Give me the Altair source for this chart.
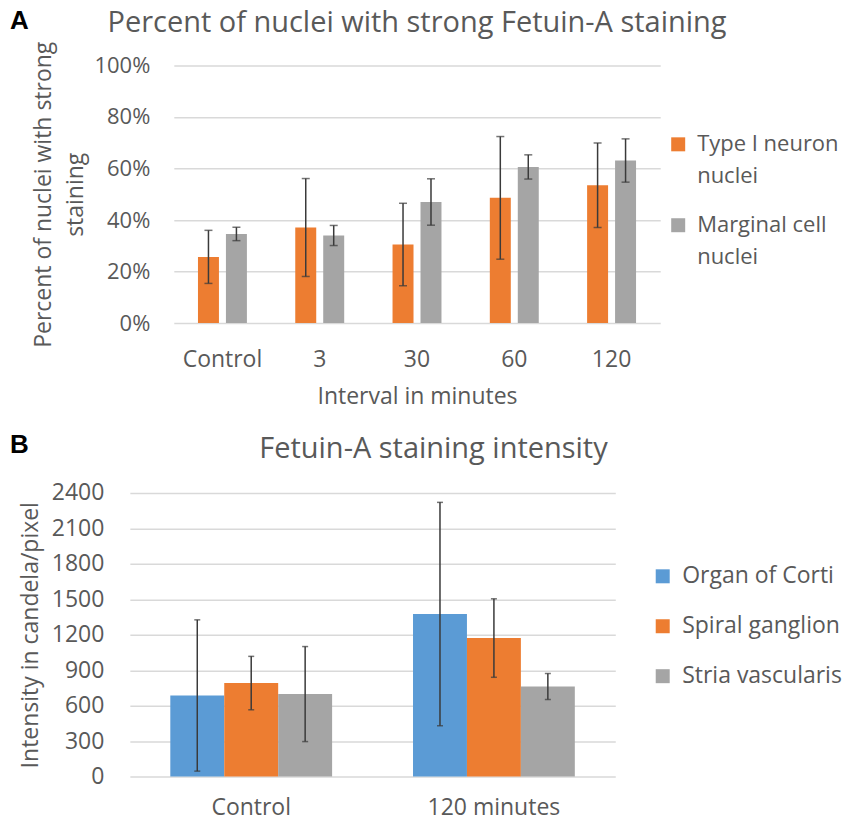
import altair as alt
import pandas as pd

# ---------------- data ----------------
intervals = ["Control", "3", "30", "60", "120"]
seriesA = ["Type I neuron nuclei", "Marginal cell nuclei"]
typeI_mean = [25.7, 37.1, 30.5, 48.6, 53.5]
typeI_err = [10.3, 19.0, 16.0, 23.8, 16.4]
marg_mean = [34.6, 34.0, 47.0, 60.6, 63.1]
marg_err = [2.6, 3.9, 9.0, 4.7, 8.4]

groupsB = ["Control", "120 minutes"]
seriesB = ["Organ of Corti", "Spiral ganglion", "Stria vascularis"]
corti_mean = [686, 1375]
corti_err = [640, 945]
spiral_mean = [791, 1172]
spiral_err = [226, 332]
stria_mean = [698, 762]
stria_err = [402, 110]

yticksA = [0, 20, 40, 60, 80, 100]
yticksB = [0, 300, 600, 900, 1200, 1500, 1800, 2100, 2400]

titleA = "Percent of nuclei with strong Fetuin-A staining"
titleB = "Fetuin-A staining intensity"

# ---------------- tables ----------------
rowsA = []
for s, means, errs in [(seriesA[0], typeI_mean, typeI_err), (seriesA[1], marg_mean, marg_err)]:
    for g, m, e in zip(intervals, means, errs):
        rowsA.append({"interval": g, "series": s, "mean": m, "lo": m - e, "hi": m + e})
dfA = pd.DataFrame(rowsA)

rowsB = []
for s, means, errs in [(seriesB[0], corti_mean, corti_err), (seriesB[1], spiral_mean, spiral_err),
                       (seriesB[2], stria_mean, stria_err)]:
    for g, m, e in zip(groupsB, means, errs):
        rowsB.append({"group": g, "series": s, "mean": m, "lo": m - e, "hi": m + e})
dfB = pd.DataFrame(rowsB)

FONT = "Open Sans"
TXT = "#595959"
ERR = "#3a3a3a"


def panel(df, xfield, xdomain, xtitle, series, colors, W, H, bar_w, dodge, yaxis, ydomain,
          legend, cap_px, letter, letter_xy, head, head_xy, head_size, xlabel_pad, xtitle_pad):
    xscale = alt.Scale(type="band", paddingInner=0.5, paddingOuter=0.25)
    xaxis = alt.Axis(labelAngle=0, labelFontSize=23, titleFontSize=23, labelPadding=xlabel_pad,
                     titlePadding=xtitle_pad, titleFontWeight="normal")
    x = alt.X(f"{xfield}:N", sort=xdomain, title=xtitle, scale=xscale, axis=xaxis)
    yscale = alt.Scale(domain=ydomain)
    cscale = alt.Scale(domain=series, range=colors)
    layers = []
    n = len(series)
    # bars, one layer per series, dodged by a fixed pixel offset around the band centre
    for i, s in enumerate(series):
        off = (i - (n - 1) / 2) * dodge
        layers.append(alt.Chart(df).transform_filter(alt.datum.series == s).mark_bar(
            width=bar_w, xOffset=off).encode(
            x=x, y=alt.Y("mean:Q", scale=yscale, axis=yaxis),
            color=alt.Color("series:N", sort=series, scale=cscale, legend=legend)))
    for i, s in enumerate(series):
        off = (i - (n - 1) / 2) * dodge
        sub = alt.Chart(df).transform_filter(alt.datum.series == s)
        layers.append(sub.mark_rule(color=ERR, strokeWidth=1.5, xOffset=off).encode(
            x=x, y=alt.Y("lo:Q", scale=yscale, axis=yaxis), y2="hi:Q"))
        layers.append(sub.mark_tick(color=ERR, size=cap_px, thickness=1.5, xOffset=off).encode(
            x=x, y=alt.Y("hi:Q", scale=yscale, axis=yaxis)))
        layers.append(sub.mark_tick(color=ERR, size=cap_px, thickness=1.5, xOffset=off).encode(
            x=x, y=alt.Y("lo:Q", scale=yscale, axis=yaxis)))
    layers.append(alt.Chart(pd.DataFrame({"t": [letter]})).mark_text(
        align="left", baseline="top", font="Liberation Sans", fontWeight="bold", fontSize=26,
        color="black").encode(x=alt.value(letter_xy[0]), y=alt.value(letter_xy[1]), text="t:N"))
    layers.append(alt.Chart(pd.DataFrame({"t": [head]})).mark_text(
        align="center", baseline="alphabetic", font=FONT, fontSize=head_size, color=TXT).encode(
        x=alt.value(head_xy[0]), y=alt.value(head_xy[1]), text="t:N"))
    return alt.layer(*layers).properties(width=W, height=H)


def spacer():
    return alt.Chart(pd.DataFrame({"s": [0]})).mark_point(opacity=0, size=1).encode(
        x=alt.value(0), y=alt.value(0)).properties(width=1, height=1)


# ---------------- panel A ----------------
WA, HA = 487, 258
yaxisA = alt.Axis(values=yticksA, labelExpr="datum.value + '%'", labelFontSize=22, labelPadding=24,
                  title=["Percent of nuclei with strong", "staining"], titleFontSize=23,
                  titleLineHeight=33, titlePadding=6, titleFontWeight="normal")
legendA = alt.Legend(title=None, orient="none", legendX=494, legendY=68,
                     symbolType="square", symbolSize=196, symbolStrokeWidth=0,
                     labelFontSize=22, labelFont=FONT, labelColor=TXT,
                     labelOffset=8, rowPadding=27, labelLimit=400, labelBaseline="middle",
                     labelExpr="[slice(datum.label, 0, lastindexof(datum.label, ' ')), slice(datum.label, lastindexof(datum.label, ' ') + 1)]")
chartA = panel(dfA, "interval", intervals, "Interval in minutes", seriesA, ["#ED7D31", "#A5A5A5"],
               WA, HA, 21, 28, yaxisA, [0, 100], legendA, 8,
               "A", (-164, -57), titleA, (WA / 2, -33), 29, 25, 14)

# ---------------- panel B ----------------
WB, HB = 486, 284
yaxisB = alt.Axis(values=yticksB, format="d", labelFontSize=23, labelPadding=26,
                  title="Intensity in candela/pixel", titleFontSize=23, titlePadding=9,
                  titleFontWeight="normal")
legendB = alt.Legend(title=None, orient="none", legendX=522, legendY=72,
                     symbolType="square", symbolSize=196, symbolStrokeWidth=0,
                     labelFontSize=23, labelFont=FONT, labelColor=TXT,
                     labelOffset=8, rowPadding=26, labelLimit=400)
chartB = panel(dfB, "group", groupsB, None, seriesB, ["#5B9BD5", "#ED7D31", "#A5A5A5"],
               WB, HB, 54, 54, yaxisB, [0, 2400], legendB, 6,
               "B", (-120, -61), titleB, (WB / 2 + 61, -35), 29, 20, 10)

chart = alt.vconcat(
    alt.hconcat(spacer(), chartA, spacing=0).resolve_scale(color="independent"),
    alt.hconcat(spacer(), chartB, spacing=0).resolve_scale(color="independent"),
    spacing=24,
).resolve_scale(color="independent").properties(padding=0).configure(
    style={"guide-label": {"lineHeight": 32}}
).configure_view(stroke=None).configure_axis(
    labelFont=FONT, titleFont=FONT, labelColor=TXT, titleColor=TXT,
    domain=False, ticks=False, gridColor="#D9D9D9", gridWidth=1.5
).configure_axisX(grid=False).configure_axisY(grid=True)

chart.save("out.html", embed_options={"renderer": "svg", "actions": False})
